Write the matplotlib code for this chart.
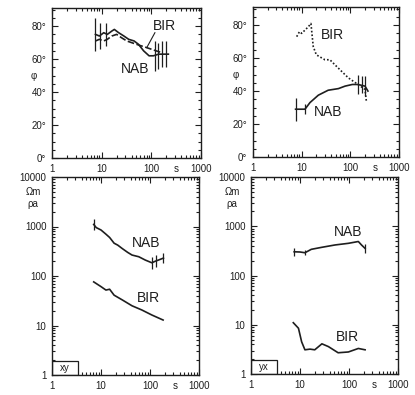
import matplotlib
matplotlib.use("Agg")
import matplotlib.pyplot as plt
from matplotlib.patches import Rectangle
from matplotlib.transforms import offset_copy
from matplotlib.ticker import FixedLocator, NullFormatter, LogLocator, FixedFormatter

plt.rcParams['font.family'] = ['Liberation Sans', 'DejaVu Sans']

# phase, xy (top left)
nab_pxy_T = [7.5, 9, 11, 13, 16, 18, 22, 28, 35, 45, 55, 70, 90, 110, 140, 180, 220]
nab_pxy = [75, 74, 76, 75, 77, 78, 76, 74, 72, 71, 69, 65, 62, 62, 63, 63, 63]
nab_pxy_errT = [7.3, 9.2, 12.2, 118, 136, 163, 195]
nab_pxy_errY = [75, 74, 75, 62, 62, 63, 63]
nab_pxy_err = [10, 8, 7, 9, 8, 8, 8]
bir_pxy_T = [7.5, 9, 11, 13, 16, 20, 25, 32, 40, 50, 63, 80, 100, 125, 160]
bir_pxy = [71, 72, 71, 72, 74, 75, 73, 71, 70, 69, 68, 67, 66, 65, 64]

# phase, yx (top right)
nab_pyx_T = [7.5, 10, 11.7, 14.8, 22, 35, 57, 78, 110, 144, 200, 230]
nab_pyx = [29, 29, 29, 33, 37.5, 40.5, 41.5, 43, 44, 44, 43, 40]
nab_pyx_errT = [7.5, 11.7, 144, 170, 200]
nab_pyx_errY = [29, 29, 44, 44, 43]
nab_pyx_err = [7, 3, 6, 5, 6]
bir_pyx_T = [7.9, 9, 10, 11.7, 13.7, 15.5, 17.3, 20, 30, 38, 48, 66, 91, 144, 200, 215]
bir_pyx = [73, 76, 75, 77, 79, 81, 67, 62, 59, 59, 56, 52, 48, 44, 41, 33]

# apparent resistivity, xy (bottom left)
nab_rxy_T = [7.1, 8, 10, 12.6, 15, 18.5, 22, 27, 35, 43, 59, 80, 109, 130, 149, 188]
nab_rxy = [1100, 950, 850, 700, 600, 460, 420, 360, 300, 265, 245, 210, 185, 200, 210, 230]
nab_rxy_errT = [7.1, 109, 130, 188]
nab_rxy_lo = [850, 140, 150, 180]
nab_rxy_hi = [1450, 240, 260, 290]
bir_rxy_T = [7.1, 10, 12.6, 15, 18.5, 27, 43, 68, 109, 185]
bir_rxy = [76, 61, 52, 54, 41, 33, 25, 20.6, 16.3, 12.9]

# apparent resistivity, yx (bottom right)
nab_ryx_T = [7.6, 10, 12.6, 17, 27.6, 52, 97, 155, 180, 213]
nab_ryx = [303, 300, 290, 340, 373, 417, 450, 490, 417, 355]
nab_ryx_errT = [7.6, 12.6, 213]
nab_ryx_lo = [250, 260, 290]
nab_ryx_hi = [370, 330, 440]
bir_ryx_T = [7.3, 9.3, 10.8, 12.6, 16, 20, 28, 38, 60, 97, 155, 213]
bir_ryx = [11, 8.5, 4.5, 3.1, 3.2, 3.1, 4.1, 3.6, 2.7, 2.8, 3.3, 3.1]

W, H = 415, 395
fig = plt.figure(figsize=(W / 100, H / 100), dpi=100)
ink = '#1e1e1e'
lw = 1.2


def px_axes(x0, y0, x1, y1):
    return fig.add_axes([x0 / W, 1 - y1 / H, (x1 - x0) / W, (y1 - y0) / H])


def style(ax, phase):
    ax.set_xscale('log')
    ax.set_xlim(1, 1000)
    ax.xaxis.set_major_locator(FixedLocator([1, 10, 100, 1000]))
    ax.xaxis.set_major_formatter(FixedFormatter(['1', '10', '100', '1000']))
    ax.xaxis.set_minor_locator(LogLocator(base=10, subs=range(2, 10)))
    ax.xaxis.set_minor_formatter(NullFormatter())
    if phase:
        ax.set_ylim(0, 91)
        ax.yaxis.set_major_locator(FixedLocator([0, 20, 40, 60, 80]))
        ax.yaxis.set_major_formatter(FixedFormatter(['0°', '20°', '40°', '60°', '80°']))
        ax.yaxis.set_minor_locator(FixedLocator(range(5, 91, 5)))
        ax.text(-0.12, 50, 'φ', transform=ax.get_yaxis_transform(),
                ha='center', va='center', fontsize=7, color=ink)
    else:
        ax.set_yscale('log')
        ax.set_ylim(1, 10000)
        ax.yaxis.set_major_locator(FixedLocator([1, 10, 100, 1000, 10000]))
        ax.yaxis.set_major_formatter(FixedFormatter(['1', '10', '100', '1000', '10000']))
        ax.yaxis.set_minor_locator(LogLocator(base=10, subs=range(2, 10)))
        ax.yaxis.set_minor_formatter(NullFormatter())
        ax.text(-0.13, 10000 / 10 ** 0.3, 'Ωm', transform=ax.get_yaxis_transform(),
                ha='center', va='center', fontsize=7, color=ink)
        ax.text(-0.13, 10000 / 10 ** 0.54, 'ρa', transform=ax.get_yaxis_transform(),
                ha='center', va='center', fontsize=7, color=ink)
    ax.tick_params(which='both', direction='in', top=True, right=True,
                   labelsize=7, colors=ink, width=0.8)
    ax.tick_params(which='major', length=4, pad=4)
    ax.tick_params(which='minor', length=2)
    for s in ax.spines.values():
        s.set_color(ink)
        s.set_linewidth(1.0)
    tr = offset_copy(ax.get_xaxis_transform(), fig=fig, y=-4, units='points')
    ax.text(320, 0, 's', transform=tr, ha='center', va='top', fontsize=7, color=ink)


def tag(ax, s):
    w, h = 0.177, 0.072
    ax.add_patch(Rectangle((0, 0), w, h, transform=ax.transAxes, fc='white',
                           ec=ink, lw=0.9, zorder=2))
    ax.text(w / 2, h / 2, s, transform=ax.transAxes, fontsize=7, color=ink,
            ha='center', va='center', zorder=4)


lab = dict(fontsize=10, color=ink, ha='center', va='center')

# top left
ax = px_axes(52, 8, 201, 158)
style(ax, True)
ax.plot(nab_pxy_T, nab_pxy, color=ink, lw=lw)
ax.plot(bir_pxy_T, bir_pxy, color=ink, lw=lw, ls=(0, (4, 1.5)))
ax.errorbar(nab_pxy_errT, nab_pxy_errY, yerr=nab_pxy_err,
            fmt='none', ecolor=ink, elinewidth=0.9)
ax.text(187, 80, 'BIR', **lab)
ax.text(47, 54, 'NAB', **lab)
ax.plot([118, 81], [76, 67], color=ink, lw=0.8)

# top right
ax = px_axes(253, 7, 399, 157)
style(ax, True)
ax.plot(nab_pyx_T, nab_pyx, color=ink, lw=lw)
ax.plot(bir_pyx_T, bir_pyx, color=ink, lw=lw, ls=(0, (1, 1.2)))
ax.errorbar(nab_pyx_errT, nab_pyx_errY, yerr=nab_pyx_err,
            fmt='none', ecolor=ink, elinewidth=0.9)
ax.text(42, 74, 'BIR', **lab)
ax.text(35, 27, 'NAB', **lab)

# bottom left
ax = px_axes(52, 177, 199, 375)
style(ax, False)
ax.plot(nab_rxy_T, nab_rxy, color=ink, lw=lw)
ax.plot(bir_rxy_T, bir_rxy, color=ink, lw=lw)
ax.vlines(nab_rxy_errT, nab_rxy_lo, nab_rxy_hi, color=ink, lw=0.9)
ax.text(85, 465, 'NAB', **lab)
ax.text(94, 36, 'BIR', **lab)
tag(ax, 'xy')

# bottom right
ax = px_axes(251, 177, 398, 374)
style(ax, False)
ax.plot(nab_ryx_T, nab_ryx, color=ink, lw=lw)
ax.plot(bir_ryx_T, bir_ryx, color=ink, lw=lw)
ax.vlines(nab_ryx_errT, nab_ryx_lo, nab_ryx_hi, color=ink, lw=0.9)
ax.text(95, 760, 'NAB', **lab)
ax.text(91, 5.6, 'BIR', **lab)
tag(ax, 'yx')

fig.savefig('out.png', dpi=100)
